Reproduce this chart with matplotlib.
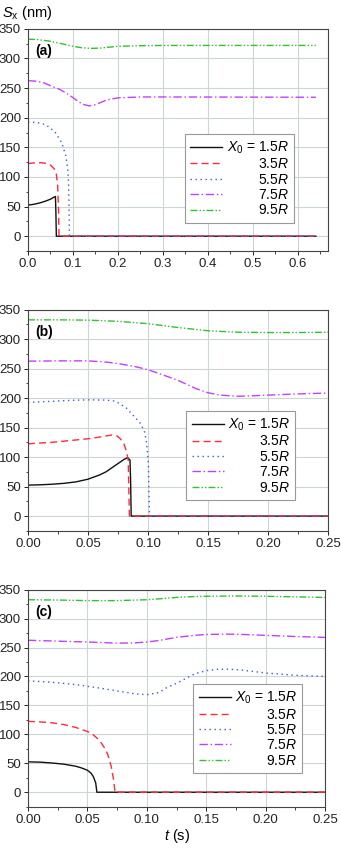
import matplotlib
matplotlib.use('Agg')
import matplotlib.pyplot as plt
from matplotlib.ticker import MultipleLocator, FormatStrFormatter

plt.rcParams['font.family'] = ['Liberation Sans', 'DejaVu Sans']
plt.rcParams['mathtext.fontset'] = 'custom'
plt.rcParams['mathtext.rm'] = 'Liberation Sans'
plt.rcParams['mathtext.it'] = 'Liberation Sans:italic'

# ── Data ────────────────────────────────────────────────

labels = [r'$X_0$ = 1.5$R$', r'3.5$R$', r'5.5$R$', r'7.5$R$', r'9.5$R$']

# panel (a)
t_a = [
    [0, 0.01, 0.02, 0.03, 0.04, 0.05, 0.058, 0.061, 0.062, 0.063, 0.64],
    [0, 0.01, 0.02, 0.03, 0.04, 0.05, 0.058, 0.063, 0.066, 0.068, 0.069, 0.64],
    [0, 0.02, 0.04, 0.05, 0.06, 0.075, 0.084, 0.088, 0.09, 0.0915, 0.092, 0.64],
    [0, 0.02, 0.035, 0.05, 0.07, 0.086, 0.1, 0.112, 0.125, 0.136, 0.15, 0.175, 0.2, 0.25, 0.3, 0.64],
    [0, 0.02, 0.05, 0.08, 0.1, 0.12, 0.14, 0.16, 0.18, 0.2, 0.25, 0.3, 0.64],
]
s_a = [
    [52.5, 53.5, 55, 57, 59.5, 62.5, 66, 67, 40, 0, 0],
    [122.5, 123.5, 124, 124, 123, 120, 114, 105, 85, 40, 0, 0],
    [192.5, 192, 188, 182, 176, 158, 136, 115, 94, 40, 0, 0],
    [262.5, 261.5, 259, 254, 248, 241, 234, 227, 222, 220, 222, 230, 233.5, 235, 235, 234.5],
    [332.5, 332, 329, 324, 320.5, 318, 317, 317.5, 319, 320.5, 321.5, 322, 322],
]

# panel (b)
t_b = [
    [0, 0.01, 0.02, 0.03, 0.04, 0.05, 0.06, 0.065, 0.07, 0.075, 0.08, 0.083, 0.085, 0.0855, 0.086, 0.25],
    [0, 0.02, 0.04, 0.05, 0.06, 0.07, 0.074, 0.077, 0.08, 0.082, 0.0835, 0.0845, 0.25],
    [0, 0.02, 0.035, 0.05, 0.065, 0.072, 0.076, 0.082, 0.087, 0.093, 0.097, 0.099, 0.1003, 0.1012, 0.25],
    [0, 0.025, 0.05, 0.065, 0.075, 0.09, 0.1, 0.11, 0.125, 0.14, 0.15, 0.16, 0.175, 0.19, 0.2, 0.225, 0.25],
    [0, 0.025, 0.05, 0.075, 0.1, 0.125, 0.15, 0.175, 0.2, 0.225, 0.25],
]
s_b = [
    [52.5, 53, 54, 55.5, 58, 62.5, 70, 75, 82, 89, 96, 99, 95, 60, 0, 0],
    [122.5, 125, 129, 131, 134, 137.5, 136, 131, 122, 110, 95, 0, 0],
    [192.5, 194.5, 196, 197, 196.5, 195, 191, 183, 172, 159, 144, 122, 89, 0, 0],
    [262.5, 263, 263, 261, 258.5, 253, 248, 241, 230, 216, 209, 205, 203, 204, 205, 207, 208.5],
    [332.5, 332.5, 332, 330, 326, 319.5, 314, 311.5, 311, 311, 311.5],
]

# panel (c)
t_c = [
    [0, 0.01, 0.02, 0.03, 0.04, 0.045, 0.05, 0.053, 0.055, 0.057, 0.058, 0.25],
    [0, 0.01, 0.02, 0.03, 0.04, 0.05, 0.055, 0.06, 0.064, 0.067, 0.07, 0.072, 0.0733, 0.25],
    [0, 0.02, 0.04, 0.05, 0.06, 0.075, 0.09, 0.1, 0.11, 0.117, 0.125, 0.135, 0.141, 0.15, 0.16, 0.17, 0.18, 0.2, 0.225, 0.25],
    [0, 0.025, 0.05, 0.075, 0.09, 0.1, 0.11, 0.125, 0.14, 0.15, 0.165, 0.175, 0.2, 0.225, 0.25],
    [0, 0.025, 0.05, 0.075, 0.1, 0.11, 0.125, 0.14, 0.15, 0.175, 0.2, 0.225, 0.25],
]
s_c = [
    [52.5, 52, 50.5, 48.5, 45, 42, 38, 33, 27, 16, 0, 0],
    [122.5, 121.5, 120, 117, 112, 105, 99, 90, 78, 66, 45, 22, 0, 0],
    [192.5, 190, 186, 183, 180, 175, 170, 168.5, 172, 181, 188, 199, 205, 210, 212.5, 212.5, 211, 206, 202, 200],
    [262.5, 261, 259.5, 257.5, 258, 259.5, 262, 267.5, 271, 272.5, 273, 273, 271, 269, 267.5],
    [332.5, 332, 331, 331, 332.5, 334, 336.5, 338, 338.5, 339, 338.5, 337.5, 336.5],
]

# ── Styles ──────────────────────────────────────────────

colors = ['#111111', '#ff2a3a', '#3a5fd8', '#c040ff', '#33c030']
dashes = [None, (5, 3), (1, 2.6), (6, 2, 1, 2), (5, 1.5, 1, 1.5, 1, 1.5)]

fig = plt.figure(figsize=(3.41, 8.48), dpi=100)
ax_a = fig.add_axes([28 / 341, 0.704, 300 / 341, 0.262])
ax_b = fig.add_axes([28 / 341, 0.374, 300 / 341, 0.261])
ax_c = fig.add_axes([28 / 341, 0.0487, 297 / 341, 0.256])

panels = [
    (ax_a, t_a, s_a, '(a)', 0.667, 0.1, '%.1f', (0.523, 0.126)),
    (ax_b, t_b, s_b, '(b)', 0.25, 0.05, '%.2f', (0.527, 0.139)),
    (ax_c, t_c, s_c, '(c)', 0.25, 0.05, '%.2f', (0.556, 0.154)),
]

for ax, ts, ss, tag, xmax, xstep, fmt, legpos in panels:
    for t, s, c, d, lab in zip(ts, ss, colors, dashes, labels):
        line, = ax.plot(t, s, color=c, lw=1.0, label=lab)
        if d is not None:
            line.set_dashes(d)
    ax.set_xlim(0, xmax)
    ax.set_ylim(-25, 350)
    ax.xaxis.set_major_locator(MultipleLocator(xstep))
    ax.xaxis.set_minor_locator(MultipleLocator(xstep / 2))
    ax.xaxis.set_major_formatter(FormatStrFormatter(fmt))
    ax.yaxis.set_major_locator(MultipleLocator(50))
    ax.yaxis.set_minor_locator(MultipleLocator(25))
    ax.tick_params(which='both', direction='out', labelsize=9.5, colors='#222222',
                   top=False, right=False, pad=2)
    ax.tick_params(which='major', length=3, width=0.7)
    ax.tick_params(which='minor', length=1.8, width=0.6)
    ax.grid(True, which='major', color='#cdd6d6', lw=0.8)
    ax.set_axisbelow(True)
    for sp in ax.spines.values():
        sp.set_color('#444444')
        sp.set_linewidth(0.8)
    ax.text(0.025, 0.93, tag, transform=ax.transAxes, fontsize=10,
            fontweight='bold', va='top', ha='left')

    leg = ax.legend(loc='lower left', bbox_to_anchor=legpos, borderaxespad=0,
                    fontsize=10, frameon=True, fancybox=False, framealpha=1,
                    edgecolor='#999999', handlelength=2.3, handletextpad=0.3,
                    labelspacing=0.1, borderpad=0.4)
    leg.get_frame().set_linewidth(0.8)
    fig.canvas.draw()
    # right-align the legend labels
    texts = leg.get_texts()
    widths = [tx.get_window_extent().width for tx in texts]
    for tx, w in zip(texts, widths):
        tx.set_position((max(widths) - w, 0))

fig.text(0.006, 0.995, r'$S_\mathrm{x}$ (nm)', fontsize=10.5, va='top', ha='left')
fig.text(0.52, 0.003, r'$t$ (s)', fontsize=10.5, va='bottom', ha='center')

fig.savefig('out.png', dpi=100)
